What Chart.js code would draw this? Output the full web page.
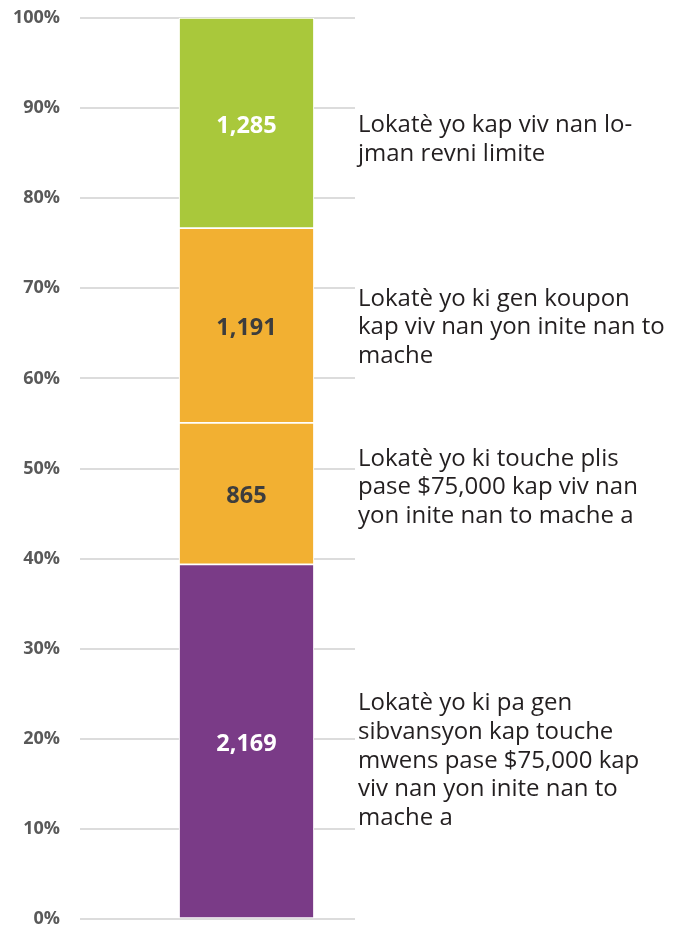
<!DOCTYPE html>
<html>
<head>
<meta charset="utf-8">
<script src="https://cdn.jsdelivr.net/npm/chart.js@4"></script>
<style>
  html, body { margin: 0; padding: 0; background: #fff; }
  #wrap { width: 681px; height: 926px; position: relative; }
</style>
</head>
<body>
<div id="wrap"><canvas id="c" width="681" height="926"></canvas></div>
<script>
// ---- data ----
const categories = ['Lokatè'];
const seriesValues = [2169, 865, 1191, 1285];          // bottom -> top
const seriesLabels = ['2,169', '865', '1,191', '1,285'];
const seriesDescriptions = [
  ['Lokatè yo ki pa gen', 'sibvansyon kap touche', 'mwens pase $75,000 kap', 'viv nan yon inite nan to', 'mache a'],
  ['Lokatè yo ki touche plis', 'pase $75,000 kap viv nan', 'yon inite nan to mache a'],
  ['Lokatè yo ki gen koupon', 'kap viv nan yon inite nan to', 'mache'],
  ['Lokatè yo kap viv nan lo-', 'jman revni limite']
];
const yTickValues = [0, 10, 20, 30, 40, 50, 60, 70, 80, 90, 100];

// ---- styles / layout ----
const segColors = ['#7a3b87', '#f2b032', '#f2b032', '#a9c83b'];
const valueTextColors = ['#ffffff', '#3d3d3d', '#3d3d3d', '#ffffff'];
const descNudge = [-31, -28, -20, 9];   // first-baseline offset from segment centre (px)
const GRID_RIGHT = 355;
const DESC_X = 358;
const DESC_LINE = 28.7;

const total = seriesValues.reduce((a, b) => a + b, 0);

const datasets = seriesValues.map((v, i) => ({
  label: seriesLabels[i],
  data: [v / total * 100],
  backgroundColor: segColors[i],
  borderColor: '#ffffff',
  borderWidth: 1.2,
  borderSkipped: false,
  barThickness: 135,
  stack: 's'
}));

const clipGrid = {
  id: 'clipGrid',
  beforeDraw(chart) {
    const ctx = chart.ctx;
    ctx.save();
    ctx.beginPath();
    ctx.rect(0, 0, GRID_RIGHT, chart.height);
    ctx.clip();
  },
  beforeDatasetsDraw(chart) {
    chart.ctx.restore();
  }
};

const labelsPlugin = {
  id: 'labelsPlugin',
  afterDatasetsDraw(chart) {
    const ctx = chart.ctx;
    ctx.save();
    chart.data.datasets.forEach((ds, i) => {
      const meta = chart.getDatasetMeta(i);
      const el = meta.data[0];
      const cy = (el.y + el.base) / 2;
      // value label
      ctx.font = 'bold 23.5px "Open Sans"';
      ctx.fillStyle = valueTextColors[i];
      ctx.textAlign = 'center';
      ctx.textBaseline = 'middle';
      ctx.fillText(seriesLabels[i], el.x, cy + 3);
      // description
      ctx.font = '24px "Open Sans"';
      ctx.fillStyle = '#231f20';
      ctx.textAlign = 'left';
      ctx.textBaseline = 'alphabetic';
      const lines = seriesDescriptions[i];
      const first = cy + descNudge[i];
      lines.forEach((ln, k) => ctx.fillText(ln, DESC_X, first + k * DESC_LINE));
    });
    ctx.restore();
  }
};

new Chart(document.getElementById('c'), {
  type: 'bar',
  data: { labels: categories, datasets },
  options: {
    responsive: false,
    animation: false,
    devicePixelRatio: 1,
    layout: { padding: { top: 18, bottom: 7, left: 0, right: 268 } },
    plugins: { legend: { display: false }, tooltip: { enabled: false } },
    scales: {
      x: { display: false, stacked: true },
      y: {
        stacked: true,
        min: 0, max: 100,
        afterBuildTicks(scale) { scale.ticks = yTickValues.map(v => ({ value: v })); },
        afterFit(scale) { scale.width = 80; scale.paddingTop = 0; scale.paddingBottom = 0; },
        border: { display: false },
        grid: { color: '#dcdcdc', lineWidth: 2, drawTicks: false },
        ticks: {
          padding: 20,
          color: '#595959',
          font: { family: '"Open Sans"', weight: 'bold', size: 18 },
          callback: v => v + '%'
        }
      }
    }
  },
  plugins: [clipGrid, labelsPlugin]
});
</script>
</body>
</html>
